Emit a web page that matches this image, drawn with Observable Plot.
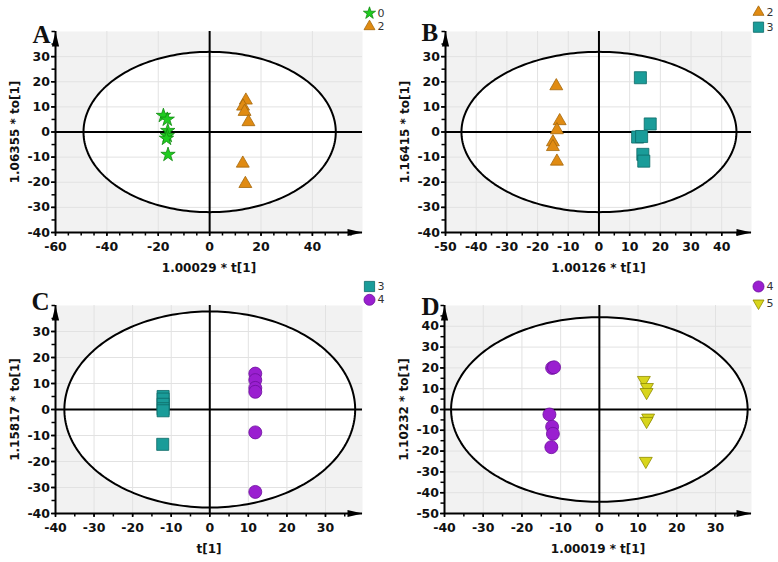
<!DOCTYPE html>
<html>
<head>
<meta charset="utf-8">
<script src="https://cdn.jsdelivr.net/npm/d3@7"></script>
<script src="https://cdn.jsdelivr.net/npm/@observablehq/plot@0.6"></script>
<style>
  html, body { margin: 0; padding: 0; background: #ffffff; }
  #grid { display: grid; grid-template-columns: 389px 389px; grid-template-rows: 281px 281px; width: 778px; height: 562px; }
  #grid svg { display: block; overflow: visible; }
</style>
</head>
<body>
<div id="grid"></div>
<script>
// ---------- data ----------
// Panel A: groups 0 and 2
const A_g0_x = [-18.0, -16.5, -16.3, -16.5, -16.8, -16.2];
const A_g0_y = [6.5, 5.0, 0.5, -1.5, -2.6, -9.0];
const A_g2_x = [14.1, 13.0, 13.6, 15.1, 12.9, 13.9];
const A_g2_y = [12.6, 10.2, 8.1, 4.0, -12.5, -20.6];
// Panel B: groups 2 and 3
const B_g2_x = [-13.9, -12.8, -13.7, -15.0, -15.0, -13.7];
const B_g2_y = [18.3, 4.4, 0.8, -4.0, -5.9, -11.7];
const B_g3_x = [13.5, 16.7, 12.6, 13.9, 14.3, 14.6];
const B_g3_y = [21.6, 3.2, -2.0, -1.8, -8.9, -11.6];
// Panel C: groups 3 and 4
const C_g3_x = [-12.1, -12.1, -12.1, -12.1, -12.1, -12.2];
const C_g3_y = [5.0, 4.0, 2.0, 0.3, -0.5, -13.4];
const C_g4_x = [11.8, 11.8, 11.8, 11.8, 11.8, 11.8];
const C_g4_y = [13.8, 11.3, 8.3, 6.8, -8.8, -31.7];
// Panel D: groups 4 and 5
const D_g4_x = [-12.2, -11.7, -12.9, -12.2, -12.0, -12.4];
const D_g4_y = [20.0, 20.3, -2.4, -8.3, -11.7, -18.1];
const D_g5_x = [11.5, 12.3, 12.2, 12.6, 12.2, 12.0];
const D_g5_y = [14.1, 10.7, 8.3, -4.0, -5.6, -24.8];

// ellipse half-axes (x radius, y radius)
const ellipseA = [49.1, 31.9];
const ellipseB = [44.8, 31.9];
const ellipseC = [37.7, 37.7];
const ellipseD = [38.3, 44.4];

// axis labels
const xLabels = ["1.00029 * t[1]", "1.00126 * t[1]", "t[1]", "1.00019 * t[1]"];
const yLabels = ["1.06355 * to[1]", "1.16415 * to[1]", "1.15817 * to[1]", "1.10232 * to[1]"];
const panelLetters = ["A", "B", "C", "D"];

// tick labels
const xTicksA = [-60, -40, -20, 0, 20, 40];
const xTicksB = [-50, -40, -30, -20, -10, 0, 10, 20, 30, 40];
const xTicksC = [-40, -30, -20, -10, 0, 10, 20, 30];
const xTicksD = [-40, -30, -20, -10, 0, 10, 20, 30];
const yTicksABC = [-40, -30, -20, -10, 0, 10, 20, 30];
const yTicksD = [-50, -40, -30, -20, -10, 0, 10, 20, 30, 40];

// group styles
const groupStyle = {
  "0": {symbol: "star", fill: "#1fcc1f", stroke: "#128a12", r: 4.5, rotate: 0},
  "2": {symbol: "triangle", fill: "#e08b12", stroke: "#a4670b", r: 4.8, rotate: 0},
  "3": {symbol: "square", fill: "#1a9c99", stroke: "#0c6967", r: 6.8, rotate: 0},
  "4": {symbol: "circle", fill: "#9a1fd0", stroke: "#6c0f9c", r: 6.5, rotate: 0},
  "5": {symbol: "triangle", fill: "#d8d51c", stroke: "#8f8c00", r: 4.8, rotate: 180}
};

const zip = (xs, ys) => xs.map((x, i) => ({x, y: ys[i]}));

const panels = [
  {letter: 0, xd: [-60, 59.5], yd: [-40, 40], xt: xTicksA, yt: yTicksABC, ell: ellipseA,
   groups: [["0", zip(A_g0_x, A_g0_y)], ["2", zip(A_g2_x, A_g2_y)]],
   m: {l: 55, r: 27, t: 31, b: 49}, legendY: [12.7, 26], letterDx: -23, letterDy: 11},
  {letter: 1, xd: [-50, 49.7], yd: [-40, 40], xt: xTicksB, yt: yTicksABC, ell: ellipseB,
   groups: [["2", zip(B_g2_x, B_g2_y)], ["3", zip(B_g3_x, B_g3_y)]],
   m: {l: 56, r: 27, t: 31, b: 49}, legendY: [11.7, 26.7], letterDx: -24, letterDy: 9},
  {letter: 2, xd: [-40, 39.6], yd: [-40, 40], xt: xTicksC, yt: yTicksABC, ell: ellipseC,
   groups: [["3", zip(C_g3_x, C_g3_y)], ["4", zip(C_g4_x, C_g4_y)]],
   m: {l: 55, r: 27, t: 24, b: 49}, legendY: [5, 18.3], letterDx: -24, letterDy: 4.5},
  {letter: 3, xd: [-40, 39.3], yd: [-50, 50], xt: xTicksD, yt: yTicksD, ell: ellipseD,
   groups: [["4", zip(D_g4_x, D_g4_y)], ["5", zip(D_g5_x, D_g5_y)]],
   m: {l: 55, r: 27, t: 24, b: 49}, legendY: [5, 21.7], letterDx: -23, letterDy: 9}
];

const arrowSymbol = {draw(ctx) { ctx.moveTo(0, 0); ctx.lineTo(-3.6, 15); ctx.lineTo(3.6, 15); ctx.closePath(); }};

function range5(lo, hi) { const out = []; for (let v = Math.ceil(lo / 5) * 5; v <= hi; v += 5) out.push(v); return out; }

function ellipsePoints([rx, ry], n = 240) {
  const pts = [];
  for (let i = 0; i <= n; i++) {
    const t = (i / n) * 2 * Math.PI;
    pts.push({x: rx * Math.cos(t), y: ry * Math.sin(t)});
  }
  return pts;
}
function ellipseHalf([rx, ry], n = 240) {
  const pts = [];
  for (let i = 0; i <= n; i++) {
    const t = Math.PI - (i / n) * Math.PI;
    const x = rx * Math.cos(t);
    pts.push({x, y1: -ry * Math.sin(t), y2: ry * Math.sin(t)});
  }
  return pts;
}

const font = "DejaVu Sans";
const fmt = d => String(d); // plain hyphen-minus as in the reference

function makePanel(p) {
  const [x0, x1] = p.xd, [y0, y1] = p.yd;
  const gridX = p.xt.filter(v => v !== 0 && v !== x0);
  const gridY = p.yt.filter(v => v !== 0 && v !== y0);
  const marks = [
    Plot.frame({fill: "#f2f2f2", stroke: "none"}),
    Plot.areaY(ellipseHalf(p.ell), {x: "x", y1: "y1", y2: "y2", fill: "#ffffff"}),
    Plot.gridX(gridX, {stroke: "#e2e2e2", strokeOpacity: 1, strokeWidth: 1}),
    Plot.gridY(gridY, {stroke: "#e2e2e2", strokeOpacity: 1, strokeWidth: 1}),
    Plot.ruleX([0], {stroke: "#000", strokeWidth: 2}),
    Plot.ruleY([0], {stroke: "#000", strokeWidth: 2}),
    Plot.line(ellipsePoints(p.ell), {x: "x", y: "y", stroke: "#000", strokeWidth: 2, curve: "linear"}),
    // axis lines
    Plot.ruleY([y0], {stroke: "#000", strokeWidth: 2}),
    Plot.ruleX([x0], {stroke: "#000", strokeWidth: 2}),
    // minor ticks
    Plot.axisX(range5(x0, x1), {anchor: "bottom", tickSize: 3.5, text: null, strokeWidth: 1.5, label: null}),
    Plot.axisY(range5(y0, y1), {anchor: "left", tickSize: 3.5, text: null, strokeWidth: 1.5, label: null}),
    // labelled ticks
    Plot.axisX(p.xt, {anchor: "bottom", tickSize: 4, tickPadding: 6, tickFormat: fmt, strokeWidth: 1.5, fontSize: 12.5, fontWeight: "bold", fontFamily: font, fill: "#111", label: null}),
    Plot.axisY(p.yt, {anchor: "left", tickSize: 4, tickPadding: 1.5, tickFormat: fmt, strokeWidth: 1.5, fontSize: 12.5, fontWeight: "bold", fontFamily: font, fill: "#111", label: null}),
    // arrow heads
    Plot.dot([{x: x1, y: y0}], {x: "x", y: "y", symbol: arrowSymbol, r: 4, fill: "#000", stroke: "none", rotate: 90}),
    Plot.dot([{x: x0, y: y1}], {x: "x", y: "y", symbol: arrowSymbol, r: 4, fill: "#000", stroke: "none", rotate: 0}),
    // axis titles
    Plot.text([xLabels[p.letter]], {frameAnchor: "bottom", dy: 39, lineAnchor: "bottom", fontSize: 12, fontWeight: "bold", fontFamily: font, fill: "#111"}),
    Plot.text([yLabels[p.letter]], {frameAnchor: "left", dx: -40, rotate: -90, lineAnchor: "middle", textAnchor: "middle", fontSize: 12, fontWeight: "bold", fontFamily: font, fill: "#111"}),
    // panel letter
    Plot.text([panelLetters[p.letter]], {frameAnchor: "top-left", dx: p.letterDx, dy: p.letterDy, textAnchor: "start", lineAnchor: "bottom", fontSize: 25, fontWeight: "bold", fontFamily: "Liberation Serif", fill: "#111"})
  ];
  // points
  for (const [g, pts] of p.groups) {
    const s = groupStyle[g];
    marks.push(Plot.dot(pts, {x: "x", y: "y", symbol: s.symbol, r: s.r, fill: s.fill, stroke: s.stroke, strokeWidth: 0.8, rotate: s.rotate}));
  }
  // legend
  p.groups.forEach(([g], i) => {
    const s = groupStyle[g];
    const dy = p.legendY[i] - p.m.t;
    marks.push(Plot.dot([g], {frameAnchor: "top-right", dx: 7, dy, symbol: s.symbol, r: s.r * 0.85, fill: s.fill, stroke: s.stroke, strokeWidth: 0.8, rotate: s.rotate}));
    marks.push(Plot.text([g], {frameAnchor: "top-right", dx: 15, dy, textAnchor: "start", lineAnchor: "middle", fontSize: 11, fontFamily: font, fill: "#333"}));
  });
  return Plot.plot({
    width: 389, height: 281,
    marginLeft: p.m.l, marginRight: p.m.r, marginTop: p.m.t, marginBottom: p.m.b,
    x: {domain: p.xd, axis: null},
    y: {domain: p.yd, axis: null},
    style: {fontFamily: font, background: "transparent", overflow: "visible"},
    marks
  });
}

const container = document.getElementById("grid");
for (const p of panels) container.appendChild(makePanel(p));
</script>
</body>
</html>
